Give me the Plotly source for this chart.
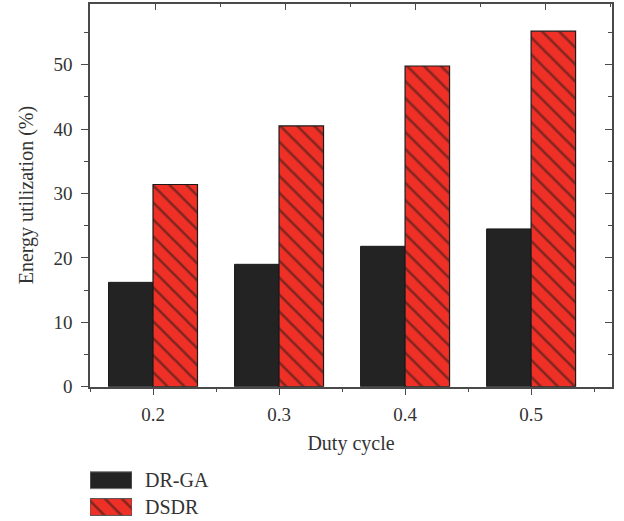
import plotly.graph_objects as go

# Duty cycle values and energy utilization (%) per method
duty_cycle = [0.2, 0.3, 0.4, 0.5]
dr_ga = [16.2, 19.0, 21.8, 24.5]
dsdr = [31.4, 40.5, 49.8, 55.2]
series_names = ["DR-GA", "DSDR"]

BLACK = "#232323"
RED = "#EE3026"
EDGE = "#1a1a1a"
AXIS = "#4a4a4a"
TEXT = "#333333"
FONT = "Liberation Serif"

bar_w = 0.0353
hatch = dict(shape="\\", size=12, solidity=0.22, fgcolor=EDGE, bgcolor=RED)

fig = go.Figure()

fig.add_trace(go.Bar(
    x=duty_cycle, y=dr_ga, name=series_names[0], width=bar_w, offset=-bar_w,
    marker=dict(color=BLACK, line=dict(color=EDGE, width=1)),
    showlegend=False,
))
fig.add_trace(go.Bar(
    x=duty_cycle, y=dsdr, name=series_names[1], width=bar_w, offset=0,
    marker=dict(color=RED, pattern=hatch, line=dict(color=EDGE, width=1.2)),
    showlegend=False,
))

# Legend swatches drawn as a small horizontal-bar panel below the chart
fig.add_trace(go.Bar(
    y=[series_names[0]], x=[1], orientation="h", width=0.63,
    xaxis="x3", yaxis="y3", showlegend=False, hoverinfo="skip",
    marker=dict(color=BLACK, line=dict(color="#777777", width=1)),
))
fig.add_trace(go.Bar(
    y=[series_names[1]], x=[1], orientation="h", width=0.63,
    xaxis="x3", yaxis="y3", showlegend=False, hoverinfo="skip",
    marker=dict(color=RED, pattern=hatch, line=dict(color="#555555", width=1)),
))

tick_font = dict(family=FONT, size=19, color=TEXT)
title_font = dict(family=FONT, size=20, color=TEXT)
main_ydomain = [0.2593, 0.999]

fig.update_layout(
    width=624, height=521,
    margin=dict(l=90, r=12, t=3, b=0),
    paper_bgcolor="white", plot_bgcolor="white",
    barmode="overlay",
    font=dict(family=FONT, color=TEXT),
    xaxis=dict(
        range=[0.15, 0.5642], domain=[0, 1], automargin=False,
        tickmode="array", tickvals=duty_cycle,
        ticktext=[f"{v:.1f}" for v in duty_cycle],
        ticks="outside", ticklen=7, tickwidth=1.3, tickcolor=AXIS,
        minor=dict(dtick=0.1, tick0=0.15, ticks="outside", ticklen=4,
                   tickwidth=1.3, tickcolor=AXIS),
        showline=True, linecolor=AXIS, linewidth=1.5,
        showgrid=False, zeroline=False,
        tickfont=tick_font, ticklabelstandoff=3,
        title=dict(text="Duty cycle", font=title_font, standoff=12),
        anchor="y",
    ),
    yaxis=dict(
        range=[0, 59.5], domain=main_ydomain, automargin=False,
        dtick=10, tick0=0,
        ticks="outside", ticklen=7, tickwidth=1.3, tickcolor=AXIS,
        minor=dict(dtick=5, ticks="outside", ticklen=4, tickwidth=1.3,
                   tickcolor=AXIS),
        showline=True, linecolor=AXIS, linewidth=1.5,
        showgrid=False, zeroline=False,
        tickfont=tick_font, ticklabelstandoff=5,
        title=dict(text="Energy utilization (%)", font=title_font, standoff=14),
        anchor="x",
    ),
    # Frame top and right edges with inward ticks
    xaxis2=dict(
        overlaying="x", side="top", anchor="y", automargin=False,
        range=[0.1497, 0.551], tick0=0.2, dtick=0.1,
        ticks="inside", ticklen=7, tickwidth=1.3, tickcolor=AXIS,
        minor=dict(dtick=0.05, ticks="inside", ticklen=4, tickwidth=1.3,
                   tickcolor=AXIS),
        showticklabels=False, showline=True, linecolor=AXIS, linewidth=1.5,
        showgrid=False, zeroline=False,
    ),
    yaxis2=dict(
        overlaying="y", side="right", anchor="x", automargin=False,
        range=[0, 59.5], dtick=10, tick0=0,
        ticks="inside", ticklen=7, tickwidth=1.3, tickcolor=AXIS,
        minor=dict(dtick=5, ticks="inside", ticklen=4, tickwidth=1.3,
                   tickcolor=AXIS),
        showticklabels=False, showline=True, linecolor=AXIS, linewidth=1.5,
        showgrid=False, zeroline=False,
    ),
    xaxis3=dict(
        domain=[0, 0.0805], range=[0, 1], anchor="y3", automargin=False,
        visible=False, fixedrange=True,
    ),
    yaxis3=dict(
        domain=[0.0012, 0.1046], anchor="x3", side="right", automargin=False,
        type="category", categoryorder="array",
        categoryarray=series_names[::-1],
        showline=False, showgrid=False, zeroline=False, ticks="",
        tickfont=dict(family=FONT, size=20, color=TEXT),
        ticklabelstandoff=12, fixedrange=True,
    ),
)

# Invisible traces so the mirrored frame axes are drawn
fig.add_trace(go.Scatter(x=[None], y=[None], xaxis="x2", yaxis="y",
                         showlegend=False, hoverinfo="skip"))
fig.add_trace(go.Scatter(x=[None], y=[None], xaxis="x", yaxis="y2",
                         showlegend=False, hoverinfo="skip"))

fig.write_html("out.html")
